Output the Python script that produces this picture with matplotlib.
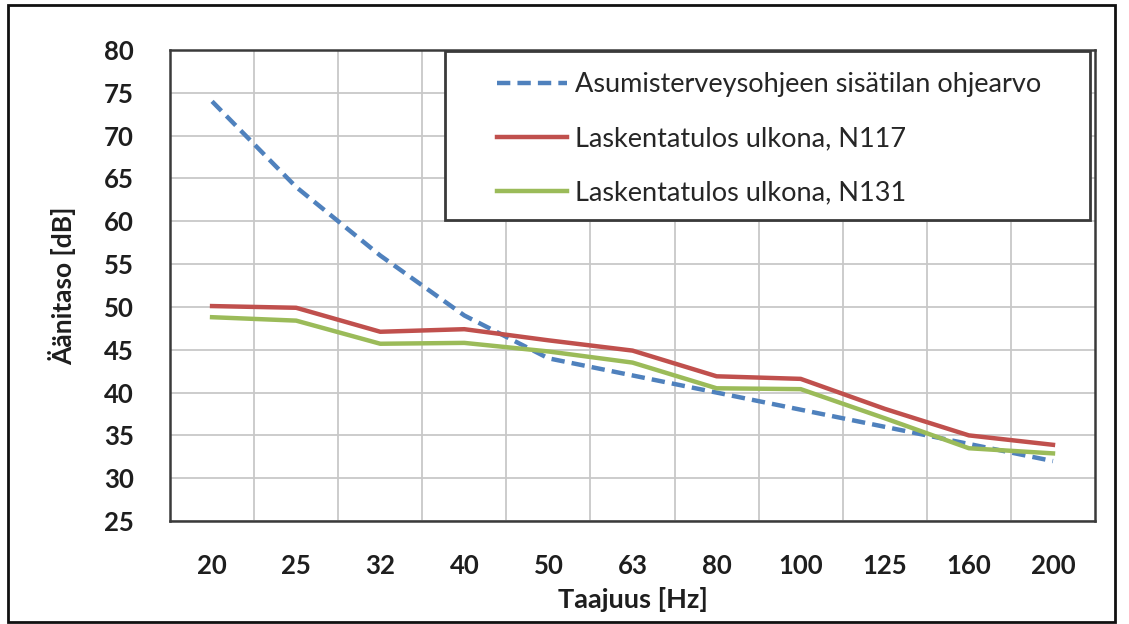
import matplotlib
matplotlib.use("Agg")
import matplotlib.pyplot as plt
from matplotlib.patches import Rectangle
import numpy as np

plt.rcParams['font.family'] = ['Lato', 'DejaVu Sans']

# taajuudet ja tasot (luettu kuvasta)
taajuus = ["20", "25", "32", "40", "50", "63", "80", "100", "125", "160", "200"]
ohjearvo = [74, 64, 56, 49, 44, 42, 40, 38, 36, 34, 32]
n117 = [50.1, 49.9, 47.1, 47.4, 46.1, 44.9, 41.9, 41.6, 38.1, 35.0, 33.9]
n131 = [48.8, 48.4, 45.7, 45.8, 44.8, 43.5, 40.5, 40.4, 37.0, 33.5, 32.9]

labels = ["Asumisterveysohjeen sisätilan ohjearvo",
          "Laskentatulos ulkona, N117",
          "Laskentatulos ulkona, N131"]

fig = plt.figure(figsize=(11.29, 6.24), dpi=100)
ax = fig.add_axes([0.1506, 0.165, 0.8193, 0.7549])

x = np.arange(len(taajuus))
ax.plot(x, ohjearvo, color="#4F81BD", lw=3.2, ls=(0, (3, 1.6)), label=labels[0], zorder=3)
ax.plot(x, n117, color="#C0504D", lw=3.2, label=labels[1], zorder=4)
ax.plot(x, n131, color="#9BBB59", lw=3.2, label=labels[2], zorder=3)

ax.set_xlim(-0.5, len(taajuus) - 0.5)
ax.set_ylim(25, 80)
ax.set_yticks(np.arange(25, 81, 5))
ax.set_xticks(x)
ax.set_xticklabels(taajuus)
# pystyviivat kategorioiden väliin
ax.set_xticks(x[:-1] + 0.5, minor=True)
ax.grid(True, which="minor", axis="x", color="#c8c8c8", lw=1.3)
ax.grid(True, which="major", axis="y", color="#c8c8c8", lw=1.3)
ax.tick_params(which="both", length=0)
ax.tick_params(axis="y", pad=26, labelsize=18.5)
ax.tick_params(axis="x", pad=24, labelsize=18.5)
for t in ax.get_xticklabels() + ax.get_yticklabels():
    t.set_fontweight("bold")
    t.set_color("#1e1e1e")
for s in ax.spines.values():
    s.set_color("#3a3a3a")
    s.set_linewidth(1.8)

ax.set_xlabel("Taajuus [Hz]", fontsize=19.5, fontweight="bold", color="#1e1e1e", labelpad=6)
ax.set_ylabel("Äänitaso [dB]", fontsize=19, fontweight="bold", color="#1e1e1e", labelpad=20)

# selite ilman kehystä, kehys erikseen
leg = ax.legend(loc="upper left", bbox_to_anchor=(0.353, 0.953), fontsize=19.5,
                frameon=False, handlelength=2.6, handletextpad=0.28,
                labelspacing=1.08, borderpad=0, borderaxespad=0)
for t in leg.get_texts():
    t.set_color("#262626")
ax.add_patch(Rectangle((0.297, 0.639), 0.6976, 0.359, transform=ax.transAxes,
                       facecolor="white", edgecolor="#3a3a3a", lw=2, zorder=5))
leg.set_zorder(6)

# kuvan ulkoreunus
fig.patches.append(Rectangle((0.007, 0.004), 0.981, 0.988, transform=fig.transFigure,
                             fill=False, edgecolor="#111111", lw=2))

fig.savefig("out.png", dpi=100, facecolor="white")
